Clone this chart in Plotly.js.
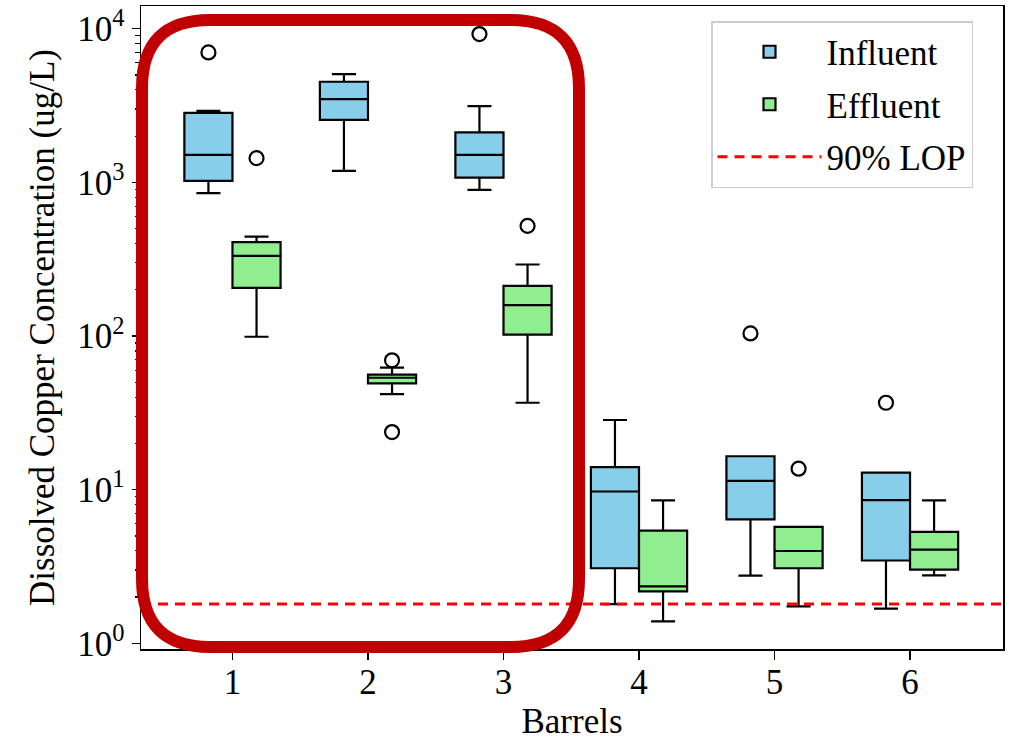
<!DOCTYPE html>
<html>
<head>
<meta charset="utf-8">
<script src="https://cdn.plot.ly/plotly-3.0.1.min.js"></script>
<style>html,body{margin:0;padding:0;background:#fff;}#chart{width:1010px;height:741px;}</style>
</head>
<body>
<div id="chart"></div>
<script>
// ---- data ----
const barrels = [1, 2, 3, 4, 5, 6];
const barrelLabels = ['1', '2', '3', '4', '5', '6'];

const influentName = 'Influent';
const influentQ1 = [1023, 2553, 1075, 3.08, 6.40, 3.46];
const influentMedian = [1511, 3483, 1511, 9.73, 11.4, 8.54];
const influentQ3 = [2838, 4517, 2113, 14.0, 16.5, 12.9];
const influentLow = [851, 1188, 893, 1.80, 2.76, 1.68];
const influentHigh = [2924, 5070, 3135, 28.4, 16.5, 12.9];
const influentOutliers = [[7010], [], [9230], [], [104], [36.8]];

const effluentName = 'Effluent';
const effluentQ1 = [206, 49.2, 102, 2.18, 3.08, 3.02];
const effluentMedian = [332, 53.5, 159, 2.35, 3.99, 4.07];
const effluentQ3 = [408, 56.0, 212, 5.42, 5.72, 5.31];
const effluentLow = [98.9, 41.9, 36.8, 1.39, 1.74, 2.77];
const effluentHigh = [443, 62.2, 292, 8.51, 5.72, 8.51];
const effluentOutliers = [[1438], [69.5, 23.7], [521], [], [13.7], []];

const lopName = '90% LOP';
const lopValue = 1.8;

const yTickVals = [1, 10, 100, 1000, 10000];
const yTickText = ['10<sup>0</sup>', '10<sup>1</sup>', '10<sup>2</sup>', '10<sup>3</sup>', '10<sup>4</sup>'];

const xTitle = 'Barrels';
const yTitle = 'Dissolved Copper Concentration (ug/L)';

// ---- styling / layout ----
const FONT = 'Liberation Serif, Times New Roman, serif';
const W = 1010, H = 741;
const M = {l: 141, r: 7, t: 6, b: 92};
const PW = W - M.l - M.r, PH = H - M.t - M.b;
const px2x = px => (px - M.l) / PW;
const py2y = py => (H - M.b - py) / PH;

function boxTrace(name, q1, med, q3, lo, hi, pts, color) {
  return {
    type: 'box', name: name, x: barrels, y: pts,
    q1: q1, median: med, q3: q3, lowerfence: lo, upperfence: hi,
    boxpoints: 'outliers', pointpos: 0, jitter: 0,
    fillcolor: color, line: {color: '#000', width: 2.2},
    whiskerwidth: 0.5,
    legendgroup: name,
    marker: {symbol: 'circle-open', size: 14, color: '#000', line: {width: 2.2, color: '#000'}},
    hoverinfo: 'skip'
  };
}

const traces = [
  boxTrace(influentName, influentQ1, influentMedian, influentQ3, influentLow, influentHigh, influentOutliers, '#87CEEB'),
  boxTrace(effluentName, effluentQ1, effluentMedian, effluentQ3, effluentLow, effluentHigh, effluentOutliers, '#90EE90')
];

// rounded highlight rectangle (decoration), pixel centreline -> paper coords
function roundRectPath(l, t, r, b, rad) {
  const X = px2x, Y = py2y;
  return 'M' + X(l + rad) + ',' + Y(t) +
    ' L' + X(r - rad) + ',' + Y(t) +
    ' Q' + X(r) + ',' + Y(t) + ' ' + X(r) + ',' + Y(t + rad) +
    ' L' + X(r) + ',' + Y(b - rad) +
    ' Q' + X(r) + ',' + Y(b) + ' ' + X(r - rad) + ',' + Y(b) +
    ' L' + X(l + rad) + ',' + Y(b) +
    ' Q' + X(l) + ',' + Y(b) + ' ' + X(l) + ',' + Y(b - rad) +
    ' L' + X(l) + ',' + Y(t + rad) +
    ' Q' + X(l) + ',' + Y(t) + ' ' + X(l + rad) + ',' + Y(t) + ' Z';
}

const layout = {
  width: W, height: H,
  margin: M,
  paper_bgcolor: '#fff', plot_bgcolor: '#fff',
  font: {family: FONT, size: 35, color: '#000'},
  boxmode: 'group', boxgap: 0.29, boxgroupgap: 0,
  showlegend: true,
  legend: {
    x: px2x(711), y: py2y(21), xanchor: 'left', yanchor: 'top',
    bordercolor: '#cccccc', borderwidth: 1.5, bgcolor: 'rgba(255,255,255,0.8)',
    font: {family: FONT, size: 35, color: '#000'},
    itemwidth: 104, tracegroupgap: 4, traceorder: 'grouped'
  },
  xaxis: {
    type: 'linear', range: [0.325, 6.686],
    tickvals: barrels, ticktext: barrelLabels,
    ticks: 'outside', ticklen: 9, tickwidth: 1.5, tickcolor: '#000',
    ticklabelstandoff: -8,
    showgrid: false, zeroline: false,
    showline: true, linecolor: '#000', linewidth: 1.5, mirror: true,
    tickfont: {family: FONT, size: 35},
    title: {text: xTitle, font: {family: FONT, size: 35}, standoff: 8}
  },
  yaxis: {
    type: 'log', range: [-0.037, 4.148],
    tickvals: yTickVals, ticktext: yTickText,
    ticks: 'outside', ticklen: 8, tickwidth: 1.5, tickcolor: '#000',
    minor: {ticks: 'outside', ticklen: 5, tickwidth: 1.2, tickcolor: '#000', showgrid: false, dtick: 'D1'},
    showgrid: false, zeroline: false,
    showline: true, linecolor: '#000', linewidth: 1.5, mirror: true,
    tickfont: {family: FONT, size: 35},
    title: {text: yTitle, font: {family: FONT, size: 35}, standoff: 12}
  },
  shapes: [
    {
      type: 'line', xref: 'paper', yref: 'y', x0: 0, x1: 1, y0: lopValue, y1: lopValue,
      line: {color: '#ff0000', width: 3, dash: '10px,7px'},
      showlegend: true, name: lopName, legendgroup: lopName, legendrank: 2000, layer: 'above'
    },
    {
      type: 'path', xref: 'paper', yref: 'paper', layer: 'above',
      path: roundRectPath(142, 20, 579, 647, 68),
      line: {color: '#C00000', width: 12}
    }
  ]
};

Plotly.newPlot('chart', traces, layout, {displayModeBar: false, staticPlot: true});
</script>
</body>
</html>
